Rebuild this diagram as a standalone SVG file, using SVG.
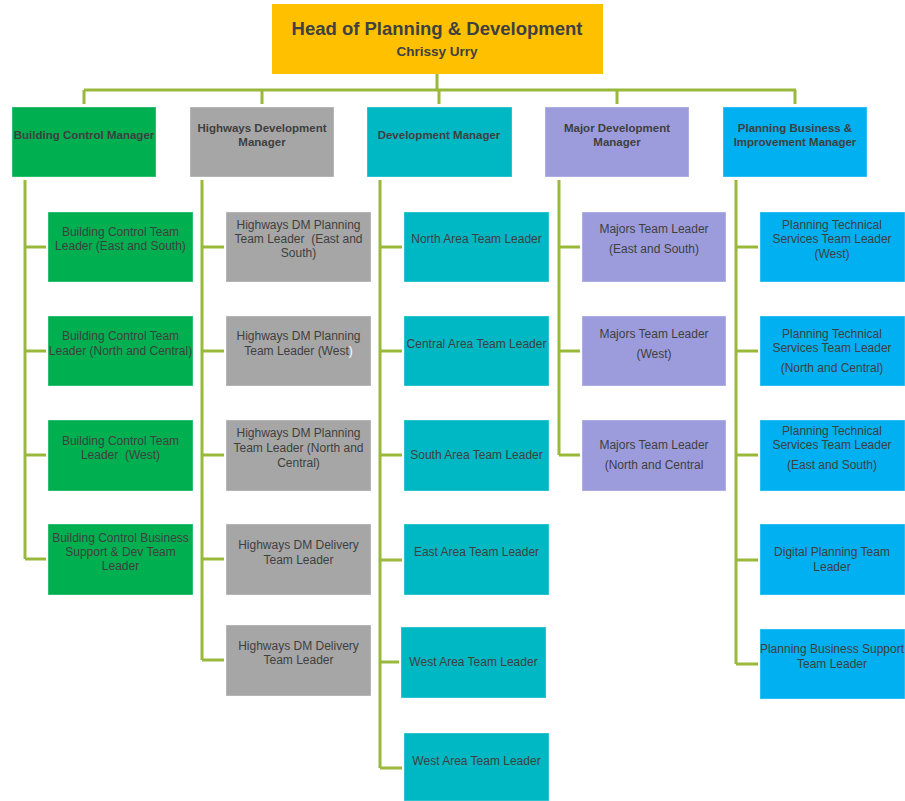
<svg xmlns="http://www.w3.org/2000/svg" width="905" height="801" viewBox="0 0 905 801">
<style>
.t{font-family:"Liberation Sans",Arial,sans-serif;font-size:12px;fill:#3f3f3f;text-anchor:middle}
.m{font-family:"Liberation Sans",Arial,sans-serif;font-size:11.5px;font-weight:bold;fill:#3f3f3f;text-anchor:middle}
.h{font-family:"Liberation Sans",Arial,sans-serif;font-weight:bold;fill:#404040;text-anchor:middle}
.bx{stroke:#ffffff;stroke-opacity:0.35;stroke-width:1}
.g{fill:#00b050}.gr{fill:#a6a6a6}.tl{fill:#00b7c4}.lv{fill:#9c9cdc}.bl{fill:#00b0f0}
.c{fill:none;stroke:#9ab93c;stroke-width:3}
</style>
<rect width="905" height="801" fill="#ffffff"/>
<g id="connectors">
<path class="c" d="M437,74 V90 M84,90 H796 M84,90 V104 M262,90 V104 M439,90 V104 M617,90 V104 M795,90 V104"/>
<path class="c" d="M25,180 V559 M25,247 H46 M25,351 H46 M25,455 H46 M25,559 H46"/>
<path class="c" d="M202,180 V660 M202,247 H224 M202,351 H224 M202,455 H224 M202,559 H224 M202,660 H224"/>
<path class="c" d="M380,180 V768 M380,247 H402 M380,351 H402 M380,455 H402 M380,560 H402 M380,662 H399 M380,768 H402"/>
<path class="c" d="M559,180 V455 M559,247 H580 M559,351 H580 M559,455 H580"/>
<path class="c" d="M736,180 V664 M736,247 H758 M736,351 H758 M736,455 H758 M736,560 H758 M736,664 H758"/>
</g>
<g id="head">
<rect x="272" y="4" width="331" height="70" fill="#ffc000"/>
<text class="h" x="437" y="35" font-size="18.5">Head of Planning &amp; Development</text>
<text class="h" x="437" y="56" font-size="13.5">Chrissy Urry</text>
</g>
<g id="bc-manager"><rect class="bx g" x="12" y="107" width="144" height="70"/><text class="m" x="84" y="139">Building Control Manager</text></g>
<g id="hw-manager"><rect class="bx gr" x="190" y="107" width="144" height="70"/><text class="m" x="262" y="132">Highways Development</text><text class="m" x="262" y="146">Manager</text></g>
<g id="dev-manager"><rect class="bx tl" x="367" y="107" width="145" height="70"/><text class="m" x="439" y="139">Development Manager</text></g>
<g id="major-manager"><rect class="bx lv" x="545" y="107" width="144" height="70"/><text class="m" x="617" y="132">Major Development</text><text class="m" x="617" y="146">Manager</text></g>
<g id="pb-manager"><rect class="bx bl" x="723" y="107" width="144" height="70"/><text class="m" x="795" y="132">Planning Business &amp;</text><text class="m" x="795" y="146">Improvement Manager</text></g>

<g id="bc1"><rect class="bx g" x="48" y="212" width="145" height="70"/><text class="t" x="120.5" y="236">Building Control Team</text><text class="t" x="120.5" y="250">Leader (East and South)</text></g>
<g id="bc2"><rect class="bx g" x="48" y="316" width="145" height="70"/><text class="t" x="120.5" y="340">Building Control Team</text><text class="t" x="120.5" y="355">Leader (North and Central)</text></g>
<g id="bc3"><rect class="bx g" x="48" y="420" width="145" height="71"/><text class="t" x="120.5" y="445">Building Control Team</text><text class="t" x="120.5" y="459" xml:space="preserve">Leader  (West)</text></g>
<g id="bc4"><rect class="bx g" x="48" y="524" width="145" height="71"/><text class="t" x="120.5" y="542">Building Control Business</text><text class="t" x="120.5" y="556">Support &amp; Dev Team</text><text class="t" x="120.5" y="570">Leader</text></g>

<g id="hw1"><rect class="bx gr" x="226" y="212" width="145" height="70"/><text class="t" x="298.5" y="229">Highways DM Planning</text><text class="t" x="298.5" y="243" xml:space="preserve">Team Leader  (East and</text><text class="t" x="298.5" y="257">South)</text></g>
<g id="hw2"><rect class="bx gr" x="226" y="316" width="145" height="70"/><text class="t" x="298.5" y="340">Highways DM Planning</text><text class="t" x="298.5" y="355">Team Leader (West<tspan fill="#ffffff">)</tspan></text></g>
<g id="hw3"><rect class="bx gr" x="226" y="420" width="145" height="71"/><text class="t" x="298.5" y="437">Highways DM Planning</text><text class="t" x="298.5" y="452">Team Leader (North and</text><text class="t" x="298.5" y="467">Central)</text></g>
<g id="hw4"><rect class="bx gr" x="226" y="524" width="145" height="71"/><text class="t" x="298.5" y="549">Highways DM Delivery</text><text class="t" x="298.5" y="564">Team Leader</text></g>
<g id="hw5"><rect class="bx gr" x="226" y="625" width="145" height="71"/><text class="t" x="298.5" y="650">Highways DM Delivery</text><text class="t" x="298.5" y="664">Team Leader</text></g>

<g id="dev1"><rect class="bx tl" x="404" y="212" width="145" height="70"/><text class="t" x="476.5" y="243">North Area Team Leader</text></g>
<g id="dev2"><rect class="bx tl" x="404" y="316" width="145" height="70"/><text class="t" x="476.5" y="348">Central Area Team Leader</text></g>
<g id="dev3"><rect class="bx tl" x="404" y="420" width="145" height="71"/><text class="t" x="476.5" y="459">South Area Team Leader</text></g>
<g id="dev4"><rect class="bx tl" x="404" y="524" width="145" height="71"/><text class="t" x="476.5" y="556">East Area Team Leader</text></g>
<g id="dev5"><rect class="bx tl" x="401" y="627" width="145" height="71"/><text class="t" x="473.5" y="666">West Area Team Leader</text></g>
<g id="dev6"><rect class="bx tl" x="404" y="733" width="145" height="68"/><text class="t" x="476.5" y="765">West Area Team Leader</text></g>

<g id="maj1"><rect class="bx lv" x="582" y="212" width="144" height="70"/><text class="t" x="654" y="233">Majors Team Leader</text><text class="t" x="654" y="253">(East and South)</text></g>
<g id="maj2"><rect class="bx lv" x="582" y="316" width="144" height="70"/><text class="t" x="654" y="338">Majors Team Leader</text><text class="t" x="654" y="358">(West)</text></g>
<g id="maj3"><rect class="bx lv" x="582" y="420" width="144" height="71"/><text class="t" x="654" y="449">Majors Team Leader</text><text class="t" x="654" y="469">(North and Central</text></g>

<g id="pb1"><rect class="bx bl" x="760" y="212" width="145" height="70"/><text class="t" x="832" y="229">Planning Technical</text><text class="t" x="832" y="243">Services Team Leader</text><text class="t" x="832" y="258">(West)</text></g>
<g id="pb2"><rect class="bx bl" x="760" y="316" width="145" height="70"/><text class="t" x="832" y="338">Planning Technical</text><text class="t" x="832" y="352">Services Team Leader</text><text class="t" x="832" y="372">(North and Central)</text></g>
<g id="pb3"><rect class="bx bl" x="760" y="420" width="145" height="71"/><text class="t" x="832" y="435">Planning Technical</text><text class="t" x="832" y="449">Services Team Leader</text><text class="t" x="832" y="469">(East and South)</text></g>
<g id="pb4"><rect class="bx bl" x="760" y="524" width="145" height="71"/><text class="t" x="832" y="556">Digital Planning Team</text><text class="t" x="832" y="571">Leader</text></g>
<g id="pb5"><rect class="bx bl" x="760" y="629" width="145" height="70"/><text class="t" x="832" y="653">Planning Business Support</text><text class="t" x="832" y="668">Team Leader</text></g>
</svg>
